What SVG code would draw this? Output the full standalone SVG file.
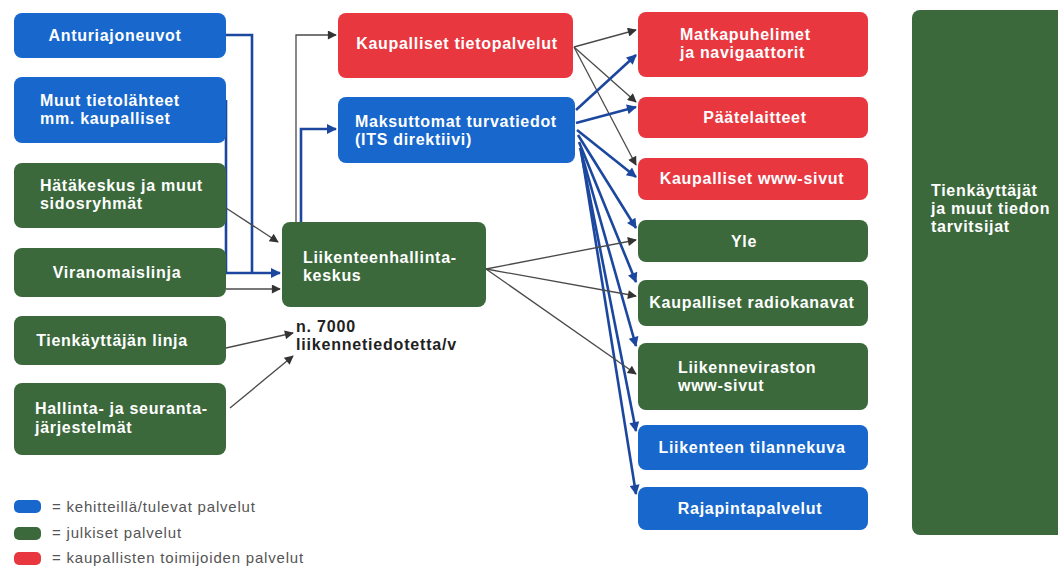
<svg xmlns="http://www.w3.org/2000/svg" width="1058" height="569" viewBox="0 0 1058 569">
<defs>
<style>
.b{fill:#1767cc}.g{fill:#3b693b}.r{fill:#e8373f}
.t{font-family:"Liberation Sans",Arial,sans-serif;font-weight:bold;font-size:16px;letter-spacing:0.7px;fill:#fff}
.c{text-anchor:middle}
.gl{stroke:#4a4a4a;stroke-width:1.3;fill:none}
.bl{stroke:#1c479f;stroke-width:2.6;fill:none}
.lg{font-family:"Liberation Sans",Arial,sans-serif;font-size:15px;letter-spacing:0.8px;fill:#555}
</style>
<marker id="ag" viewBox="0 0 10 10" refX="9" refY="5" markerWidth="11" markerHeight="9" markerUnits="userSpaceOnUse" orient="auto"><path d="M0,0L10,5L0,10z" fill="#333"/></marker>
<marker id="ab" viewBox="0 0 10 10" refX="9" refY="5" markerWidth="13" markerHeight="10" markerUnits="userSpaceOnUse" orient="auto"><path d="M0,0L10,5L0,10z" fill="#1c479f"/></marker>
</defs>
<rect width="1058" height="569" fill="#fff"/>

<g id="connectors">
<path class="bl" d="M226,35H252V273"/>
<path class="bl" d="M226,100V273H280" marker-end="url(#ab)"/>
<path class="gl" d="M226,208L278,242" marker-end="url(#ag)"/>
<path class="gl" d="M226,289H280" marker-end="url(#ag)"/>
<path class="gl" d="M226,348L293,333" marker-end="url(#ag)"/>
<path class="gl" d="M230,408L293,356" marker-end="url(#ag)"/>
<path class="gl" d="M296,223V35H336" marker-end="url(#ag)"/>
<path class="bl" d="M301,223V129H336" marker-end="url(#ab)"/>
<path class="gl" d="M574,47L636,30" marker-end="url(#ag)"/>
<path class="gl" d="M574,47L636,102" marker-end="url(#ag)"/>
<path class="gl" d="M574,47L636,165" marker-end="url(#ag)"/>
<path class="bl" d="M576,110L636,55" marker-end="url(#ab)"/>
<path class="bl" d="M576,123L636,107" marker-end="url(#ab)"/>
<path class="bl" d="M577,130L636,177" marker-end="url(#ab)"/>
<path class="bl" d="M578,135L636,228" marker-end="url(#ab)"/>
<path class="bl" d="M579,142L636,282" marker-end="url(#ab)"/>
<path class="bl" d="M580,148L636,346" marker-end="url(#ab)"/>
<path class="bl" d="M581,152L636,431" marker-end="url(#ab)"/>
<path class="bl" d="M582,156L636,494" marker-end="url(#ab)"/>
<path class="gl" d="M486,269L636,240" marker-end="url(#ag)"/>
<path class="gl" d="M486,269L636,296" marker-end="url(#ag)"/>
<path class="gl" d="M486,269L636,374" marker-end="url(#ag)"/>
</g>

<g id="n1"><rect class="b" x="14" y="13" width="212" height="45" rx="8"/><text class="t c" x="115" y="41">Anturiajoneuvot</text></g>
<g id="n2"><rect class="b" x="14" y="77" width="212" height="66" rx="8"/><text class="t" x="40" y="106">Muut tietolähteet</text><text class="t" x="40" y="124">mm. kaupalliset</text></g>
<g id="n3"><rect class="g" x="14" y="163" width="212" height="65" rx="8"/><text class="t" x="40" y="191">Hätäkeskus ja muut</text><text class="t" x="40" y="209">sidosryhmät</text></g>
<g id="n4"><rect class="g" x="14" y="248" width="212" height="49" rx="8"/><text class="t c" x="117" y="278">Viranomaislinja</text></g>
<g id="n5"><rect class="g" x="14" y="316" width="212" height="49" rx="8"/><text class="t c" x="112" y="346">Tienkäyttäjän linja</text></g>
<g id="n6"><rect class="g" x="14" y="383" width="212" height="72" rx="8"/><text class="t" x="35" y="414">Hallinta- ja seuranta-</text><text class="t" x="35" y="433">järjestelmät</text></g>

<g id="n7"><rect class="g" x="282" y="222" width="204" height="85" rx="8"/><text class="t" x="303" y="263">Liikenteenhallinta-</text><text class="t" x="303" y="281">keskus</text></g>
<g id="n8"><rect class="r" x="338" y="13" width="235" height="65" rx="8"/><text class="t c" x="457" y="49">Kaupalliset tietopalvelut</text></g>
<g id="n9"><rect class="b" x="338" y="97" width="237" height="66" rx="8"/><text class="t" x="355" y="127">Maksuttomat turvatiedot</text><text class="t" x="355" y="145">(ITS direktiivi)</text></g>

<g id="note"><text font-family="Liberation Sans,Arial,sans-serif" font-weight="bold" font-size="16" letter-spacing="0.8" fill="#222"><tspan x="296" y="332">n. 7000</tspan><tspan x="296" y="350">liikennetiedotetta/v</tspan></text></g>

<g id="n10"><rect class="r" x="638" y="12" width="230" height="65" rx="8"/><text class="t" x="680" y="40">Matkapuhelimet</text><text class="t" x="680" y="58">ja navigaattorit</text></g>
<g id="n11"><rect class="r" x="638" y="97" width="230" height="41" rx="8"/><text class="t c" x="755" y="123">Päätelaitteet</text></g>
<g id="n12"><rect class="r" x="638" y="158" width="230" height="42" rx="8"/><text class="t c" x="752" y="184">Kaupalliset www-sivut</text></g>
<g id="n13"><rect class="g" x="638" y="220" width="230" height="42" rx="8"/><text class="t c" x="744" y="247">Yle</text></g>
<g id="n14"><rect class="g" x="638" y="280" width="230" height="46" rx="8"/><text class="t c" x="752" y="308">Kaupalliset radiokanavat</text></g>
<g id="n15"><rect class="g" x="638" y="343" width="230" height="67" rx="8"/><text class="t" x="678" y="373">Liikenneviraston</text><text class="t" x="678" y="391">www-sivut</text></g>
<g id="n16"><rect class="b" x="638" y="425" width="230" height="45" rx="8"/><text class="t c" x="752" y="453">Liikenteen tilannekuva</text></g>
<g id="n17"><rect class="b" x="638" y="487" width="230" height="43" rx="8"/><text class="t c" x="750" y="514">Rajapintapalvelut</text></g>

<g id="n18"><rect class="g" x="912" y="10" width="160" height="525" rx="8"/><text class="t" x="931" y="196">Tienkäyttäjät</text><text class="t" x="931" y="214">ja muut tiedon</text><text class="t" x="931" y="232">tarvitsijat</text></g>

<g id="legend">
<rect class="b" x="14" y="500" width="27" height="13" rx="5"/><text class="lg" x="52" y="512">= kehitteillä/tulevat palvelut</text>
<rect class="g" x="14" y="527" width="27" height="13" rx="5"/><text class="lg" x="52" y="538">= julkiset palvelut</text>
<rect class="r" x="14" y="552" width="27" height="13" rx="5"/><text class="lg" x="52" y="563">= kaupallisten toimijoiden palvelut</text>
</g>
</svg>
